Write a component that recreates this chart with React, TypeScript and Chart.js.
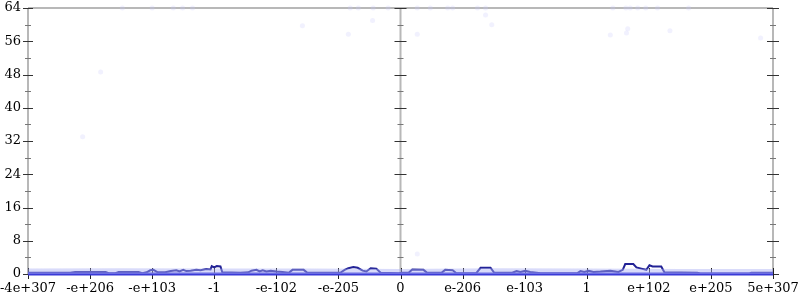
import React, { useEffect, useRef } from "react";
import { Chart, registerables } from "chart.js";
Chart.register(...registerables);

const xTickLabels = ["-4e+307", "-e+206", "-e+103", "-1", "-e-102", "-e-205", "0", "e-206", "e-103", "1", "e+102", "e+205", "5e+307"];
const xTickValues = [-6, -5, -4, -3, -2, -1, 0, 1, 2, 3, 4, 5, 6];
const yTickValues = [0, 8, 16, 24, 32, 40, 48, 56, 64];
const yMinorValues = [4, 12, 20, 28, 36, 44, 52, 60];
const axisLineValues = [-6, 0, 6];

const lineX = [-6.0, -5.32, -5.24, -4.75, -4.7, -4.59, -4.54, -4.22, -4.16, -4.09, -4.03, -3.98, -3.91, -3.79, -3.7, -3.61, -3.56, -3.5, -3.45, -3.38, -3.29, -3.22, -3.13, -3.06, -3.04, -3.0, -2.96, -2.9, -2.87, -2.58, -2.45, -2.4, -2.32, -2.27, -2.22, -2.16, -2.09, -2.0, -1.9, -1.8, -1.74, -1.56, -1.5, -0.97, -0.9, -0.84, -0.76, -0.69, -0.61, -0.55, -0.48, -0.39, -0.32, -0.03,
  0.03, 0.13, 0.19, 0.37, 0.43, 0.66, 0.72, 0.84, 0.9, 1.22, 1.29, 1.45, 1.51, 1.8, 1.87, 1.93, 2.01, 2.09, 2.26, 2.85, 2.9, 2.96, 3.03, 3.11, 3.22, 3.38, 3.51, 3.58, 3.62, 3.75, 3.8, 3.88, 3.96, 4.01, 4.06, 4.2, 4.25, 4.78, 4.83, 5.61, 5.65, 6.0];
const lineY = [0.3, 0.3, 0.5, 0.5, 0.2, 0.2, 0.5, 0.5, 0.2, 0.4, 0.9, 1.0, 0.4, 0.4, 0.7, 0.9, 0.6, 1.0, 0.7, 0.8, 1.0, 0.9, 1.2, 1.1, 1.9, 1.6, 1.9, 1.8, 0.4, 0.3, 0.4, 0.8, 1.0, 0.6, 0.9, 0.6, 0.8, 0.6, 0.5, 0.3, 1.0, 1.0, 0.3, 0.3, 1.0, 1.4, 1.7, 1.5, 0.8, 0.6, 1.4, 1.3, 0.3, 0.2,
  0.3, 0.3, 1.1, 1.0, 0.3, 0.3, 1.0, 0.9, 0.2, 0.2, 1.5, 1.5, 0.3, 0.3, 0.7, 0.5, 0.8, 0.5, 0.2, 0.2, 0.7, 0.5, 0.8, 0.5, 0.6, 0.8, 0.5, 1.0, 2.4, 2.4, 1.6, 1.3, 1.0, 2.1, 1.8, 1.8, 0.4, 0.3, 0.1, 0.1, 0.3, 0.3];

const bandX = [-6, -4.5, -3, -1.5, 0, 1.5, 3, 4.5, 6];
const bandY = [1.3, 1.4, 1.3, 1.3, 1.2, 1.4, 1.3, 1.2, 1.2];

const baseX = [-6, 6];
const baseY = [0, 0];

const dotX = [-4.83, -5.12, -4.48, -4.0, -3.66, -3.51, -3.35, -0.81, -0.68, -0.44, -0.2, 0.27, 0.48, 0.76, 0.84, 1.24, 1.37, -0.45, -1.58, -0.84, 0.27, 1.37, 1.47, 3.42, 3.63, 3.7, 3.82, 3.95, 4.14, 4.64, 3.38, 3.66, 3.64, 4.34, 5.8, 0.27];
const dotY = [48.6, 33, 64, 64, 64, 64, 64, 64, 64, 64, 64, 64, 64, 64, 64, 64, 64, 61, 59.7, 57.7, 57.7, 62.3, 60, 64, 64, 64, 64, 64, 64, 64, 57.5, 59, 58, 58.5, 56.8, 4.8];

const FONT = "13px 'DejaVu Serif'";

const axisDecor = {
  id: "axisDecor",
  beforeDatasetsDraw(chart: any) {
    const { ctx, chartArea, scales } = chart;
    const xs = scales.x;
    const ys = scales.y;
    ctx.save();
    ctx.strokeStyle = "#b8b8b8";
    ctx.lineWidth = 2;
    ctx.beginPath();
    ctx.moveTo(chartArea.left, chartArea.top);
    ctx.lineTo(chartArea.right, chartArea.top);
    for (const v of axisLineValues) {
      const px = xs.getPixelForValue(v);
      ctx.moveTo(px, chartArea.top);
      ctx.lineTo(px, chartArea.bottom);
    }
    ctx.stroke();
    ctx.lineWidth = 1;
    for (const v of axisLineValues) {
      const px = xs.getPixelForValue(v);
      ctx.strokeStyle = "#333";
      for (const y of yTickValues) {
        const py = Math.round(ys.getPixelForValue(y)) + 0.5;
        const half = v === -6 ? 5 : 6;
        ctx.beginPath();
        ctx.moveTo(px - half, py);
        ctx.lineTo(px + half, py);
        ctx.stroke();
      }
      ctx.strokeStyle = "#777";
      for (const y of yMinorValues) {
        const py = Math.round(ys.getPixelForValue(y)) + 0.5;
        ctx.beginPath();
        ctx.moveTo(px - 3, py);
        ctx.lineTo(px + 3, py);
        ctx.stroke();
      }
    }
    ctx.strokeStyle = "#222";
    for (const v of xTickValues) {
      const px = Math.round(xs.getPixelForValue(v)) + 0.5;
      ctx.beginPath();
      ctx.moveTo(px, chartArea.bottom - 6);
      ctx.lineTo(px, chartArea.bottom + 5);
      ctx.stroke();
    }
    ctx.restore();
  },
  afterDraw(chart: any) {
    const { ctx, chartArea, scales } = chart;
    const xs = scales.x;
    const ys = scales.y;
    ctx.save();
    ctx.font = FONT;
    ctx.fillStyle = "#000";
    ctx.textAlign = "right";
    ctx.textBaseline = "middle";
    for (const y of yTickValues) {
      ctx.fillText(String(y), chartArea.left - 7, ys.getPixelForValue(y));
    }
    ctx.textAlign = "center";
    xTickValues.forEach((v, i) => {
      ctx.fillText(xTickLabels[i], xs.getPixelForValue(v), chartArea.bottom + 15);
    });
    ctx.restore();
  },
};

export default function App() {
  const ref = useRef<HTMLCanvasElement>(null);
  useEffect(() => {
    if (!ref.current) return;
    const chart = new Chart(ref.current, {
      type: "scatter",
      data: {
        datasets: [
          {
            type: "line",
            data: bandX.map((x, i) => ({ x, y: bandY[i] })),
            borderWidth: 0,
            pointRadius: 0,
            fill: "origin",
            backgroundColor: "rgba(170,175,245,0.45)",
            borderColor: "rgba(0,0,0,0)",
          } as any,
          {
            data: dotX.map((x, i) => ({ x, y: dotY[i] })),
            pointRadius: 2.5,
            pointBorderWidth: 0,
            backgroundColor: "rgba(200,200,250,0.25)",
            borderColor: "rgba(200,200,250,0.25)",
            clip: false,
          } as any,
          {
            type: "line",
            data: baseX.map((x, i) => ({ x, y: baseY[i] })),
            borderWidth: 3,
            pointRadius: 0,
            borderColor: "#3a3ad8",
            clip: false,
          } as any,
          {
            type: "line",
            data: lineX.map((x, i) => ({ x, y: lineY[i] })),
            borderWidth: 2,
            pointRadius: 0,
            borderColor: "#222296",
            tension: 0,
          } as any,
        ],
      },
      options: {
        animation: false,
        responsive: false,
        maintainAspectRatio: false,
        layout: { padding: { top: 8, right: 27, left: 0, bottom: 0 } },
        plugins: { legend: { display: false }, tooltip: { enabled: false } },
        scales: {
          x: {
            type: "linear",
            min: -6,
            max: 6,
            border: { display: false },
            grid: { display: false },
            ticks: { display: false },
            afterFit: (s: any) => { s.height = 26; },
          },
          y: {
            min: 0,
            max: 64,
            border: { display: false },
            grid: { display: false },
            ticks: { display: false },
            afterFit: (s: any) => { s.width = 28; },
          },
        },
      },
      plugins: [axisDecor],
    } as any);
    return () => chart.destroy();
  }, []);
  return (
    <div style={{ position: "absolute", left: 0, top: 0, width: 800, height: 300, background: "#fff" }}>
      <canvas ref={ref} width={800} height={300} />
    </div>
  );
}
